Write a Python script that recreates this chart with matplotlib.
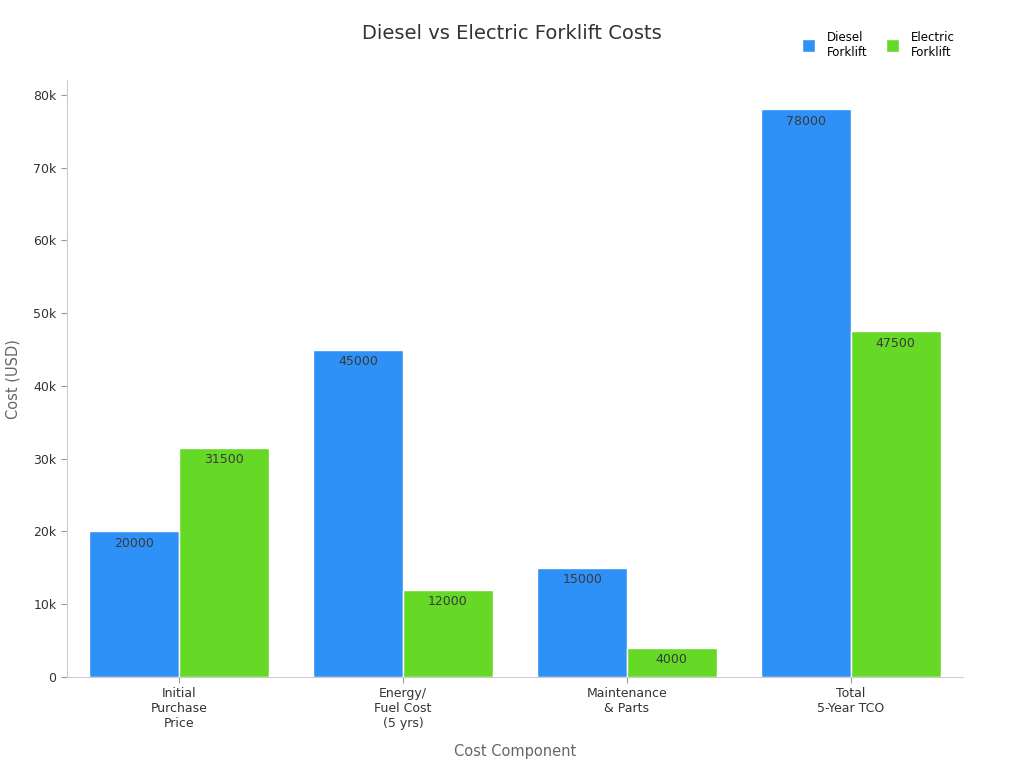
import numpy as np
import matplotlib.pyplot as plt
from matplotlib.ticker import FuncFormatter

# ---------- data ----------
categories = ["Initial\nPurchase\nPrice", "Energy/\nFuel Cost\n(5 yrs)", "Maintenance\n& Parts", "Total\n5-Year TCO"]
diesel = [20000, 45000, 15000, 78000]
electric = [31500, 12000, 4000, 47500]
series_names = ["Diesel\nForklift", "Electric\nForklift"]
colors = ["#2E91F7", "#66D926"]

fig = plt.figure(figsize=(10.24, 7.68), dpi=100)
ax = fig.add_axes([0.0654, 0.1185, 0.875, 0.777])

x = np.arange(len(categories))
w = 0.4
b1 = ax.bar(x - w / 2, diesel, w, color=colors[0], edgecolor="white", linewidth=1, label=series_names[0])
b2 = ax.bar(x + w / 2, electric, w, color=colors[1], edgecolor="white", linewidth=1, label=series_names[1])

for bars in (b1, b2):
    for r in bars:
        ax.annotate(f"{int(r.get_height())}", (r.get_x() + r.get_width() / 2, r.get_height()),
                    xytext=(0, -4), textcoords="offset points", ha="center", va="top",
                    fontsize=9, color="#3a3a3a")

ax.set_xlim(-0.5, 3.5)
ax.set_ylim(0, 82000)
ax.set_yticks(np.arange(0, 80001, 10000))
ax.yaxis.set_major_formatter(FuncFormatter(lambda v, p: "0" if v == 0 else f"{int(v/1000)}k"))
ax.set_xticks(x)
ax.set_xticklabels(categories, fontsize=9, color="#333333")
ax.tick_params(axis="y", labelsize=9, colors="#333333")
ax.tick_params(axis="both", color="#999999", length=4)

for s in ("top", "right"):
    ax.spines[s].set_visible(False)
for s in ("left", "bottom"):
    ax.spines[s].set_color("#cccccc")

ax.set_xlabel("Cost Component", fontsize=10.5, color="#666666", labelpad=10)
ax.set_ylabel("Cost (USD)", fontsize=10.5, color="#666666", labelpad=9)
fig.text(0.5, 0.957, "Diesel vs Electric Forklift Costs", ha="center", va="center", fontsize=14, color="#333333")

fig.legend(handles=[b1, b2], loc="center", bbox_to_anchor=(0.858, 0.942), ncol=2, frameon=False,
           fontsize=8.5, handlelength=1.1, handleheight=1.3, columnspacing=1.6, handletextpad=1.0)

plt.savefig("out.png", dpi=100)
